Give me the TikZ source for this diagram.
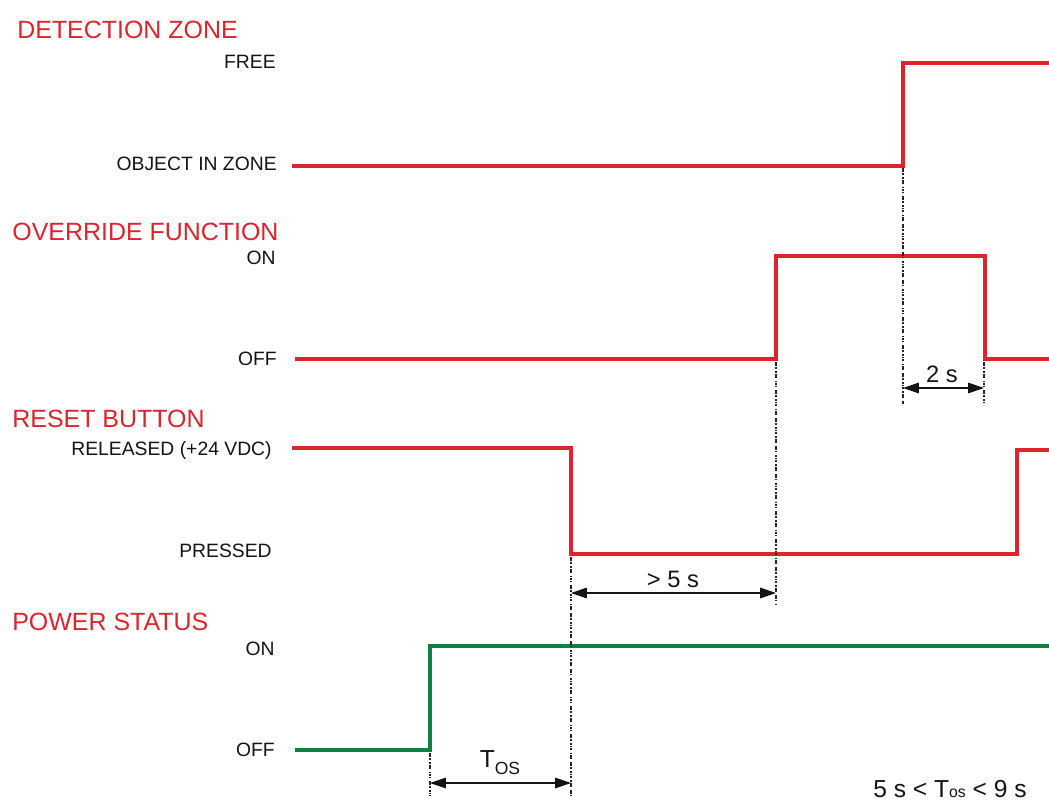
\documentclass[tikz,border=0pt]{standalone}
\usepackage{fontspec}
\setmainfont{Liberation Sans}
\usetikzlibrary{arrows.meta,positioning,calc}
\definecolor{ink}{RGB}{20,20,20}
\definecolor{sig}{RGB}{218,37,45}
\definecolor{pwr}{RGB}{18,128,66}
\definecolor{guide}{RGB}{35,35,35}
\tikzset{
  title/.style={anchor=base west, text=sig, inner sep=0pt, font=\fontsize{14.2}{17}\selectfont},
  level/.style={anchor=base east, text=ink, inner sep=0pt, font=\fontsize{11}{13}\selectfont},
  dur/.style={anchor=base, text=ink, inner sep=0pt, font=\fontsize{13.5}{16}\selectfont},
  wave/.style={draw=sig, line width=2.3pt, line join=miter, line cap=butt},
  power/.style={wave, draw=pwr},
  guideline/.style={draw=guide, line width=1.5pt, dash pattern=on 1pt off 0.4pt on 1pt off 0.4pt on 1pt off 1.5pt},
  span/.style={{Triangle[length=9pt,width=6pt]}-{Triangle[length=9pt,width=6pt]}, line width=0.6pt, draw=ink},
}

\begin{document}
\begin{tikzpicture}[x=0.02cm, y=-0.02cm]
  \useasboundingbox (0,0) rectangle (1049,801);
  % titles of the four signals
  \node[title] (tDet) at (17,38) {DETECTION ZONE};
  \node[title] (tOvr) at (12,240) {OVERRIDE FUNCTION};
  \node[title] (tRst) at (12,427) {RESET BUTTON};
  \node[title] (tPwr) at (12,630) {POWER STATUS};
  % level names
  \foreach \n/\x/\y/\t in {lFree/276/69/FREE, lObj/277/170/OBJECT IN ZONE,
      lOvrOn/276/264/ON, lOvrOff/277/365/OFF,
      lRel/272/455/RELEASED (+24 VDC), lPrs/272/557/PRESSED,
      lPwrOn/275/655/ON, lPwrOff/275/756/OFF}
    { \node[level] (\n) at (\x,\y) {\t}; }
  % detection zone
  \coordinate (d0) at (292,166); \coordinate (d1) at (903,166);
  \coordinate (d2) at (903,63);  \coordinate (d3) at (1049,63);
  \draw[wave] (d0) -- (d1) -- (d2) -- (d3);
  % override function
  \coordinate (o0) at (295,359); \coordinate (o1) at (776,359);
  \coordinate (o2) at (776,256); \coordinate (o3) at (985,256);
  \coordinate (o4) at (985,359); \coordinate (o5) at (1049,359);
  \draw[wave] (o0) -- (o1) -- (o2) -- (o3) -- (o4) -- (o5);
  % reset button
  \coordinate (r0) at (292,448); \coordinate (r1) at (571,448);
  \coordinate (r2) at (571,554); \coordinate (r3) at (1017,554);
  \coordinate (r4) at (1017,450); \coordinate (r5) at (1049,450);
  \draw[wave] (r0) -- (r1) -- (r2) -- (r3) -- (r4) -- (r5);
  % power status
  \coordinate (p0) at (295,750); \coordinate (p1) at (430,750);
  \coordinate (p2) at (430,646); \coordinate (p3) at (1049,646);
  \draw[power] (p0) -- (p1) -- (p2) -- (p3);
  % timing guides
  \coordinate (g1) at (903,404); \coordinate (g2) at (984,404);
  \coordinate (g3) at (776,605); \coordinate (g4) at (571,796);
  \coordinate (g5) at (430,796);
  \draw[guideline] (903,168) -- (g1);
  \draw[guideline] (984,362) -- (g2);
  \draw[guideline] (776,362) -- (g3);
  \draw[guideline] (571,557) -- (g4);
  \draw[guideline] (430,753) -- (g5);
  % durations
  \coordinate (a1) at (903,388); \coordinate (a2) at (984,388);
  \coordinate (b1) at (571,593); \coordinate (b2) at (776,593);
  \coordinate (c1) at (430,783); \coordinate (c2) at (571,783);
  \draw[span] (a1) -- (a2);
  \draw[span] (b1) -- (b2);
  \draw[span] (c1) -- (c2);
  \node[dur] (n2s) at (942,382) {2 s};
  \node[dur] (n5s) at (673,587) {> 5 s};
  \node[dur, font=\fontsize{14}{16}\selectfont] (nTos) at (500,767) {T\raisebox{-0.55ex}{\fontsize{10}{10}\selectfont OS}};
  \node[dur, font=\fontsize{14}{16}\selectfont] (nRange) at (950,797) {5 s < T{\fontsize{9}{9}\selectfont os} < 9 s};
\end{tikzpicture}
\end{document}
